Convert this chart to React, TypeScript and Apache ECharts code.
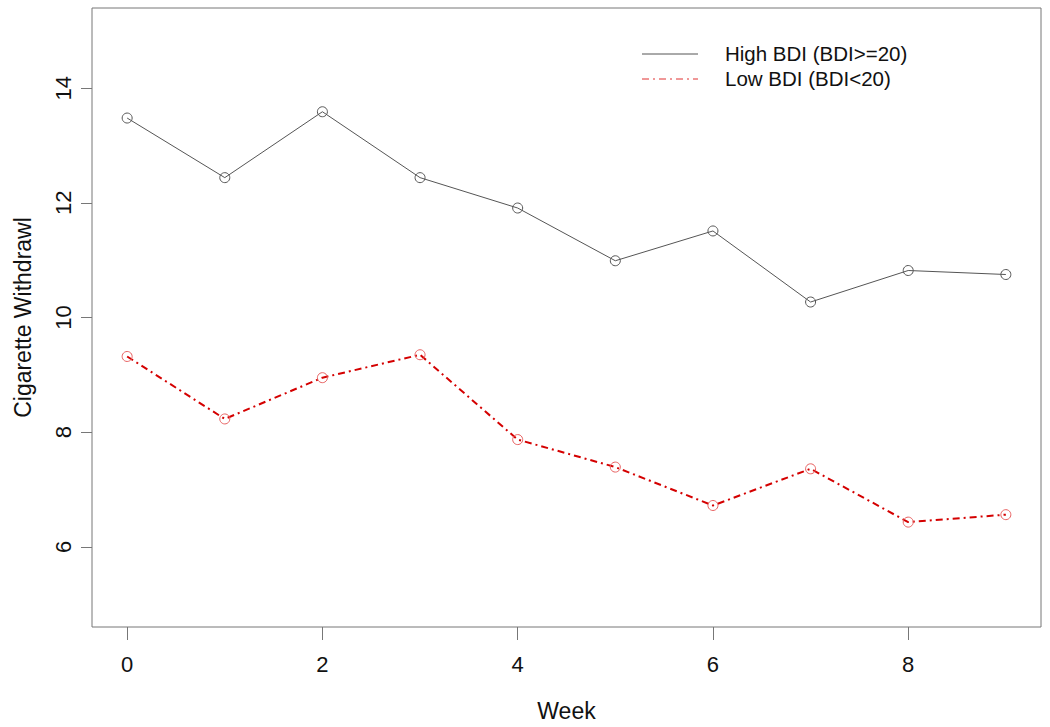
import React, { useEffect, useRef } from "react";
import * as echarts from "echarts";

const weeks = [0, 1, 2, 3, 4, 5, 6, 7, 8, 9];
const highBDI = [13.48, 12.44, 13.59, 12.44, 11.91, 10.99, 11.51, 10.27, 10.82, 10.75];
const lowBDI = [9.32, 8.23, 8.95, 9.35, 7.87, 7.39, 6.72, 7.36, 6.43, 6.56];
const xTicks = [0, 2, 4, 6, 8];
const yTicks = [6, 8, 10, 12, 14];
const seriesNames = ["High BDI (BDI>=20)", "Low BDI (BDI<20)"];

const FONT = "Liberation Sans, Arial, sans-serif";

export default function App() {
  const ref = useRef<HTMLDivElement>(null);
  useEffect(() => {
    if (!ref.current) return;
    const chart = echarts.init(ref.current, null, { renderer: "svg" });
    const grey = "#777";
    chart.setOption({
      animation: false,
      backgroundColor: "#fff",
      grid: {
        show: true,
        left: 92,
        right: 9,
        top: 8,
        bottom: 99,
        borderColor: grey,
        borderWidth: 1,
        backgroundColor: "transparent",
      },
      xAxis: {
        type: "value",
        min: -0.36,
        max: 9.36,
        name: "Week",
        nameLocation: "middle",
        nameGap: 72,
        nameTextStyle: { fontFamily: FONT, fontSize: 23, color: "#111" },
        axisLine: { show: false, onZero: false },
        splitLine: { show: false },
        axisTick: { show: true, length: 13, customValues: xTicks, lineStyle: { color: grey } },
        axisLabel: {
          customValues: xTicks,
          margin: 26,
          fontFamily: FONT,
          fontSize: 22,
          color: "#111",
        },
      },
      yAxis: {
        type: "value",
        min: 4.6,
        max: 15.4,
        name: "Cigarette Withdrawl",
        nameLocation: "middle",
        nameGap: 58,
        nameTextStyle: { fontFamily: FONT, fontSize: 23, color: "#111" },
        axisLine: { show: false, onZero: false },
        splitLine: { show: false },
        axisTick: { show: true, length: 11, customValues: yTicks, lineStyle: { color: grey } },
        axisLabel: {
          customValues: yTicks,
          rotate: 90,
          margin: 18,
          fontFamily: FONT,
          fontSize: 22,
          color: "#111",
        },
      },
      series: [
        {
          name: seriesNames[0],
          type: "line",
          data: weeks.map((w, i) => [w, highBDI[i]]),
          symbol: "circle",
          symbolSize: 10,
          showSymbol: true,
          lineStyle: { color: "#555", width: 1 },
          itemStyle: { color: "transparent", borderColor: "#555", borderWidth: 1 },
          z: 3,
        },
        {
          name: seriesNames[1],
          type: "line",
          data: weeks.map((w, i) => [w, lowBDI[i]]),
          symbol: "circle",
          symbolSize: 10,
          showSymbol: true,
          lineStyle: { color: "#d40000", width: 2, type: [7, 4, 2, 4] },
          itemStyle: { color: "transparent", borderColor: "#e86060", borderWidth: 1 },
          z: 3,
        },
      ],
      graphic: [
        {
          type: "line",
          shape: { x1: 642, y1: 54, x2: 698, y2: 54 },
          style: { stroke: "#555", lineWidth: 1 },
        },
        {
          type: "text",
          left: 725,
          top: 43,
          style: { text: seriesNames[0], fontFamily: FONT, fontSize: 20.5, fill: "#111" },
        },
        {
          type: "line",
          shape: { x1: 642, y1: 79, x2: 698, y2: 79 },
          style: { stroke: "#e03030", lineWidth: 1, lineDash: [7, 4, 2, 4] },
        },
        {
          type: "text",
          left: 725,
          top: 68,
          style: { text: seriesNames[1], fontFamily: FONT, fontSize: 20.5, fill: "#111" },
        },
      ],
    });
    return () => chart.dispose();
  }, []);
  return (
    <div
      ref={ref}
      style={{ position: "fixed", left: 0, top: 0, width: 1050, height: 727, background: "#fff" }}
    />
  );
}
